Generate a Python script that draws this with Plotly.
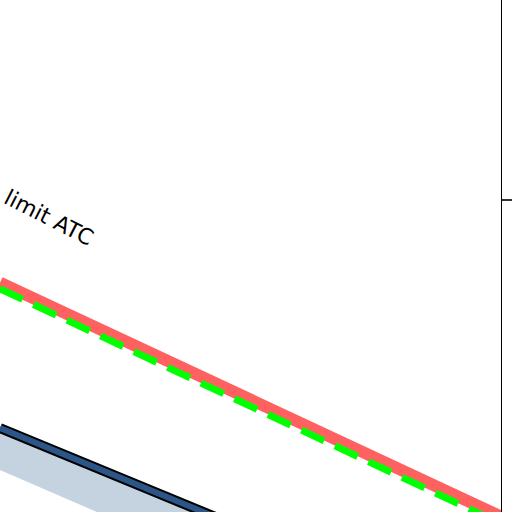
import plotly.graph_objects as go

# Data (x in 0..100, y in 0..100 units)
x_vals = [0, 100]
limit_red = [44.8, -0.9]
limit_green = [43.6, -2.3]
blue_line = [16.4, -24.0]
band_lower = [8.2, -34.2]
ytick_vals = [60.9]
label_text = "limit ATC"

fig = go.Figure()

# light band
fig.add_trace(go.Scatter(x=x_vals, y=band_lower, mode="lines",
                         line=dict(width=0, color="rgba(0,0,0,0)"), showlegend=False, hoverinfo="skip"))
fig.add_trace(go.Scatter(x=x_vals, y=blue_line, mode="lines", fill="tonexty",
                         fillcolor="#c5d3e1", line=dict(width=0, color="rgba(0,0,0,0)"),
                         showlegend=False, hoverinfo="skip"))
# blue line with black outline
fig.add_trace(go.Scatter(x=x_vals, y=blue_line, mode="lines",
                         line=dict(width=10, color="black"), showlegend=False))
fig.add_trace(go.Scatter(x=x_vals, y=blue_line, mode="lines",
                         line=dict(width=6, color="#2b5687"), showlegend=False))
# red limit line
fig.add_trace(go.Scatter(x=x_vals, y=limit_red, mode="lines",
                         line=dict(width=12, color="#ff6161"), showlegend=False))
# green dashed line
fig.add_trace(go.Scatter(x=x_vals, y=limit_green, mode="lines",
                         line=dict(width=7, color="#00ff00", dash="25px,12px"), showlegend=False))

fig.add_annotation(x=9.7, y=57.6, xref="x", yref="y", text=label_text, showarrow=False,
                   textangle=27, font=dict(family="DejaVu Sans", size=22, color="black"))

fig.update_layout(
    width=512, height=512,
    margin=dict(l=0, r=0, t=0, b=0, pad=0, autoexpand=False),
    paper_bgcolor="white", plot_bgcolor="white",
    showlegend=False,
    xaxis=dict(range=[0, 100], domain=[0, 501/512], showline=False, showgrid=False,
               zeroline=False, showticklabels=False, ticks="", automargin=False),
    yaxis=dict(range=[0, 100], side="right", showline=True, linecolor="black", linewidth=1,
               ticks="outside", ticklen=12, tickwidth=1.5, tickcolor="#333", automargin=False,
               tickvals=ytick_vals, showticklabels=False, showgrid=False, zeroline=False),
)

fig.write_html("out.html", config={"displayModeBar": False},
               post_script="document.body.style.margin='0px';document.body.style.overflow='hidden';")
